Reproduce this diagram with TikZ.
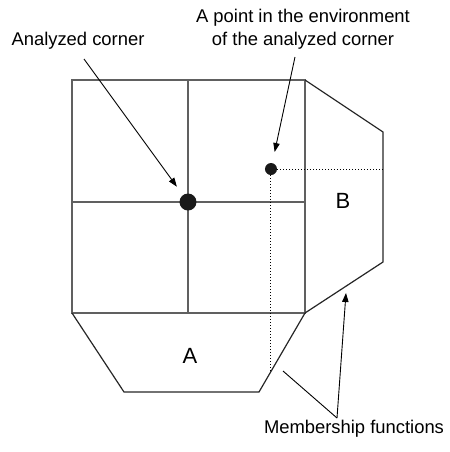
\documentclass[tikz,border=0pt]{standalone}
\usepackage{fontspec}
\setmainfont{Liberation Sans}
\usetikzlibrary{arrows.meta}

\begin{document}
\begin{tikzpicture}[x=0.5pt, y=-0.5pt, every node/.style={font=\fontsize{9.2}{11.5}\selectfont, inner sep=0pt},
  grid/.style={draw=gray!75!black, line width=0.55pt},
  mf/.style={draw=black!85, line width=0.6pt},
  proj/.style={densely dotted, line width=0.5pt},
  pointer/.style={-{Triangle[length=4.5pt,width=3.2pt]}, line width=0.45pt},
  dot/.style={circle, fill=black!90, inner sep=0pt}]
\useasboundingbox (0,0) rectangle (450,452);
% grid around the corner
\draw[grid] (72,80) rectangle (305,313);
\draw[grid] (188,80) -- (188,313);
\draw[grid] (72,202) -- (305,202);
% membership functions
\coordinate (b1) at (305,80);
\coordinate (b2) at (383,132);
\coordinate (b3) at (383,262);
\coordinate (b4) at (305,313);
\coordinate (a1) at (72,313);
\coordinate (a2) at (124,392);
\coordinate (a3) at (259,392);
\draw[mf] (b1) -- (b2) -- (b3) -- (b4);
\draw[mf] (a1) -- (a2) -- (a3) -- (b4);
\node[anchor=base, font=\fontsize{11}{13}\selectfont] (la) at (190,363) {A};
\node[anchor=base, font=\fontsize{11}{13}\selectfont] (lb) at (343,208) {B};
% corner and neighbour point
\node[dot, minimum size=8.5pt] (corner) at (188,202) {};
\node[dot, minimum size=6pt] (pt) at (271,169) {};
\coordinate (ptA) at (271,371);
\draw[proj] (pt) -- (pt -| b2);
\draw[proj] (pt) -- (ptA);
% labels
\node[anchor=base] (clabel) at (78,45) {Analyzed corner};
\node[anchor=base, align=center] (plabel) at (303,45) {A point in the environment\\of the analyzed corner};
\node[anchor=base] (mflabel) at (354,433) {Membership functions};
\coordinate (cstart) at (84,59);
\coordinate (pstart) at (295,57);
\coordinate (mfj) at (337,418);
\coordinate (mfA) at (283,371);
\coordinate (mfB) at (346,293);
\draw[pointer, shorten >=5pt] (cstart) -- (corner);
\draw[pointer, shorten >=5.5pt] (pstart) -- (pt);
\draw[line width=0.45pt] (mfA) -- (mfj);
\draw[pointer] (mfj) -- (mfB);
\end{tikzpicture}
\end{document}
